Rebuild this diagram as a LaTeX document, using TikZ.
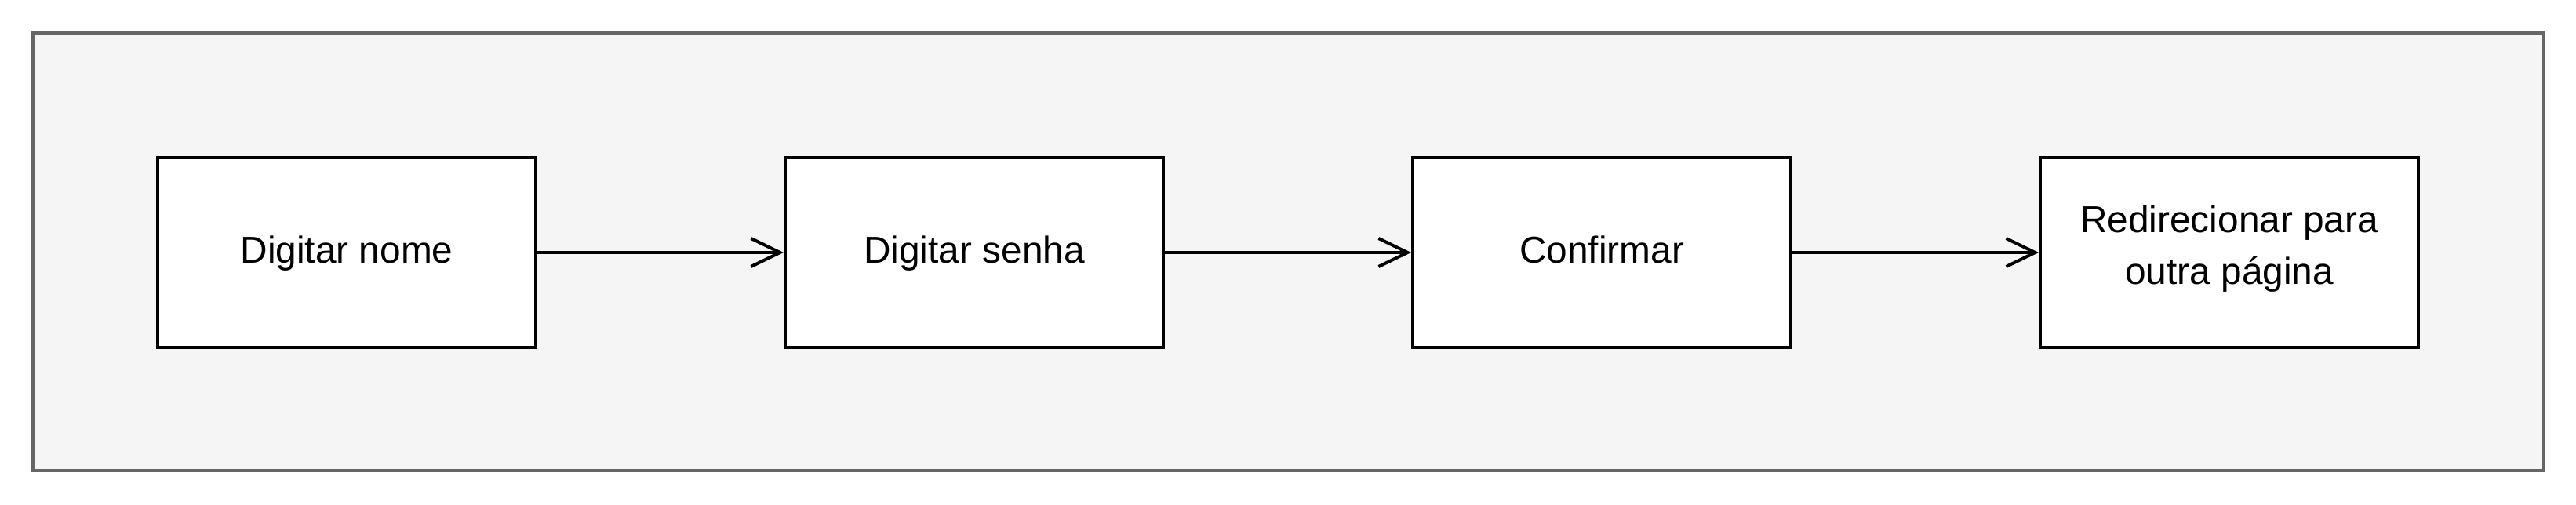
\documentclass[tikz,border=0pt]{standalone}
\usepackage{fontspec}
\setmainfont{Liberation Sans}
\usepackage{tikz}
\usetikzlibrary{arrows.meta,positioning}
\definecolor{ink}{HTML}{000000}
\definecolor{framegray}{HTML}{666666}
\definecolor{panel}{HTML}{F5F5F5}

\begin{document}
\begin{tikzpicture}[node distance=3.14cm]
    \tikzset{
      painel/.style={draw=framegray,fill=panel,line width=1.15pt},
      etapa/.style={draw=ink,fill=white,line width=1.15pt,minimum width=4.82cm,minimum height=2.42cm,align=center,inner sep=0pt,execute at begin node=\strut,font=\fontsize{13.6}{18.8}\selectfont},
      seta/.style={draw=ink,line width=1.15pt,-{Straight Barb[length=3.7mm,width=3.6mm]}}
    }
    \useasboundingbox (0,0) rectangle (32.84,-6.44);
    \draw[painel] (0.42,-0.42) rectangle (32.43,-6.00);
    \node[etapa] (nome) at (4.42,-3.22) {Digitar nome};
    \node[etapa,right=of nome] (senha) {Digitar senha};
    \node[etapa,right=of senha] (confirmar) {Confirmar};
    \node[etapa,right=of confirmar] (redirecionar) {Redirecionar para\\outra página};
    \foreach \a/\b in {nome/senha,senha/confirmar,confirmar/redirecionar} {
      \draw[seta] (\a) -- (\b);
    }
  \end{tikzpicture}
\end{document}
